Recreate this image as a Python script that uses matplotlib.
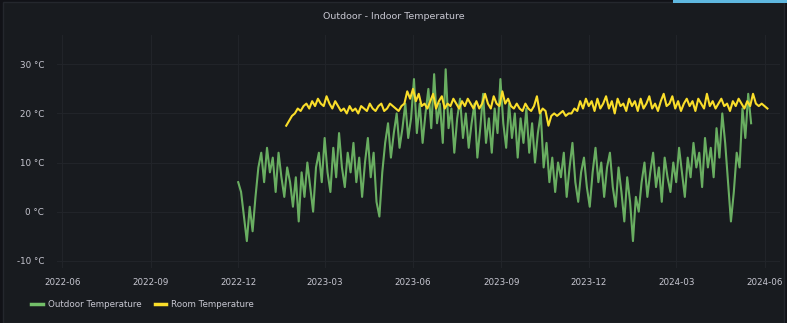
import numpy as np
import pandas as pd
import matplotlib
matplotlib.use("Agg")
import matplotlib.pyplot as plt
import matplotlib.dates as mdates
from matplotlib.lines import Line2D

# outdoor sensor, one reading every 3 days from 2022-12-01
outdoor_start = "2022-12-01"
outdoor_temp = [
    6, 4, -1, -6, 1, -4, 3, 9, 12, 6,
    13, 8, 11, 4, 12, 7, 3, 9, 6, 1,
    7, -2, 8, 3, 10, 5, 0, 9, 12, 6,
    15, 8, 4, 13, 7, 16, 9, 5, 12, 8,
    14, 6, 11, 3, 10, 15, 7, 12, 2, -1,
    8, 14, 18, 11, 16, 20, 13, 17, 22, 15,
    19, 27, 16, 22, 14, 20, 25, 17, 28, 18,
    22, 14, 29, 17, 21, 12, 19, 23, 15, 20,
    13, 18, 22, 11, 17, 24, 14, 19, 12, 21,
    16, 27, 18, 13, 22, 15, 20, 11, 19, 14,
    21, 12, 18, 10, 16, 20, 9, 14, 6, 11,
    4, 10, 7, 12, 3, 9, 14, 6, 2, 8,
    11, 5, 1, 8, 13, 6, 10, 3, 9, 12,
    5, 1, 9, 4, -2, 7, 2, -6, 3, 0,
    6, 10, 3, 8, 12, 5, 9, 2, 11, 7,
    4, 10, 6, 13, 8, 3, 11, 7, 14, 9,
    12, 5, 15, 9, 13, 7, 17, 11, 20, 14,
    6, -2, 4, 12, 9, 21, 15, 24, 18,
]

# room sensor, one reading every 3 days from 2023-01-20
room_start = "2023-01-20"
room_temp = [
    17.5, 18.5, 19.5, 20, 21, 20.5, 21.5, 22, 21, 22.5,
    21.5, 23, 22, 21.5, 23.5, 22, 21, 22.5, 21.5, 20.5,
    21, 20, 21.5, 20.5, 21, 20, 21.5, 21, 20.5, 22,
    21, 20.5, 21.5, 22, 20.5, 21, 22, 21.5, 21, 20.5,
    21.5, 22, 24.5, 23, 25, 22.5, 24, 21.5, 22, 21,
    22.5, 24, 21, 22.5, 23.5, 21, 22, 21.5, 23, 22,
    21, 22.5, 21.5, 23, 22, 21, 22.5, 21, 22, 24,
    22, 21, 23.5, 22, 21.5, 24.5, 22, 23, 21.5, 21,
    22, 21, 20.5, 22, 21, 20.5, 21.5, 23.5, 20, 21,
    20.5, 17.5, 19.5, 20, 19.5, 20, 20.5, 19.5, 20, 20,
    21, 20.5, 22.5, 21, 23, 21.5, 22.5, 20.5, 23, 21,
    22, 23.5, 21, 22.5, 20, 23, 21.5, 22, 20.5, 23,
    21.5, 22.5, 20.5, 23, 21, 22, 23.5, 21, 22, 20.5,
    22.5, 24, 21.5, 22, 23.5, 21, 22.5, 20.5, 22, 23,
    21.5, 22.5, 20.5, 23, 22, 21, 24, 21.5, 22.5, 21,
    22, 23, 21.5, 22, 20.5, 22.5, 21.5, 23, 22, 21,
    22.5, 21.5, 24, 22, 21.5, 22, 21.5, 21,
]

y_ticks = [-10, 0, 10, 20, 30]
x_ticks = ["2022-06", "2022-09", "2022-12", "2023-03", "2023-06",
           "2023-09", "2023-12", "2024-03", "2024-06"]

outdoor_dates = pd.date_range(outdoor_start, periods=len(outdoor_temp), freq="3D")
room_dates = pd.date_range(room_start, periods=len(room_temp), freq="3D")

bg = "#181b1f"
txt = "#c7c7d1"
green = "#73bf69"
yellow = "#fade2a"

fig = plt.figure(figsize=(7.87, 3.23), dpi=100, facecolor="#111217")
fig.patches.append(plt.Rectangle((0.004, 0.0), 0.992, 0.995, transform=fig.transFigure,
                                 facecolor=bg, edgecolor="#24272d", lw=1, zorder=-10))
fig.patches.append(plt.Rectangle((0.855, 0.99), 0.145, 0.01, transform=fig.transFigure,
                                 facecolor="#5fb8e0", edgecolor="none", zorder=-9))
ax = fig.add_axes([0.072, 0.17, 0.919, 0.722])
ax.set_facecolor(bg)

ax.plot(outdoor_dates, outdoor_temp, color=green, lw=1.5, alpha=0.9)
ax.plot(room_dates, room_temp, color=yellow, lw=1.5)

ax.set_ylim(-11.5, 36)
ax.set_xlim(pd.Timestamp("2022-05-26"), pd.Timestamp("2024-06-17"))
ax.set_yticks(y_ticks)
ax.set_yticklabels([f"{v} °C" for v in y_ticks])
ax.set_xticks([pd.Timestamp(t + "-01") for t in x_ticks])
ax.set_xticklabels(x_ticks)
ax.grid(True, color="#212429", lw=0.8)
ax.set_axisbelow(True)
for s in ax.spines.values():
    s.set_visible(False)
ax.tick_params(length=0, colors=txt, labelsize=6.3, pad=7)
ax.tick_params(axis="y", pad=9)

fig.text(0.5, 0.948, "Outdoor - Indoor Temperature", ha="center", va="center",
         color=txt, fontsize=6.8)

handles = [Line2D([], [], color=green, lw=2.5), Line2D([], [], color=yellow, lw=2.5)]
fig.legend(handles, ["Outdoor Temperature", "Room Temperature"], loc="lower left",
           bbox_to_anchor=(0.03, 0.02), ncol=2, frameon=False, fontsize=6.3,
           labelcolor=txt, handlelength=1.3, handletextpad=0.6, columnspacing=1.5)

fig.savefig("out.png", dpi=100, facecolor=fig.get_facecolor())
